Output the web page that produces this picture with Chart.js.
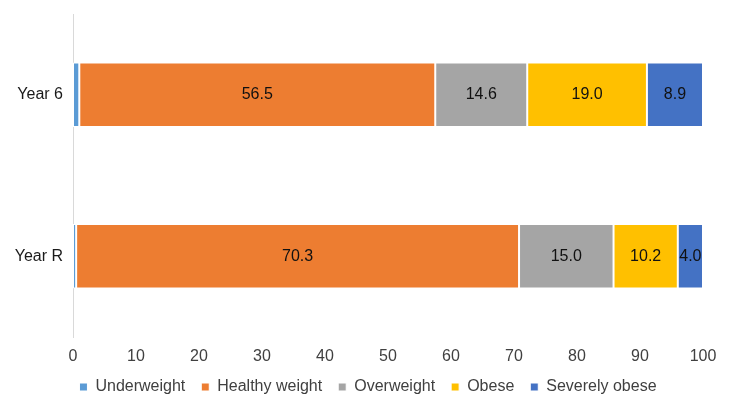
<!DOCTYPE html>
<html>
<head>
<meta charset="utf-8">
<script src="https://cdn.jsdelivr.net/npm/chart.js@4"></script>
<style>
  html, body { margin: 0; padding: 0; background: #fff; }
  #wrap { width: 732px; height: 406px; }
</style>
</head>
<body>
<div id="wrap"><canvas id="weightChart"></canvas></div>
<script>
// Categories and series values (percent)
const categories = ["Year 6", "Year R"];
const underweight = [1.0, 0.5];
const healthyWeight = [56.5, 70.3];
const overweight = [14.6, 15.0];
const obese = [19.0, 10.2];
const severelyObese = [8.9, 4.0];
const xTicks = [0, 10, 20, 30, 40, 50, 60, 70, 80, 90, 100];

const FONT = "'Liberation Sans', Arial, sans-serif";

// Draw value labels in the middle of each segment (not for underweight)
const segmentLabels = {
  id: "segmentLabels",
  afterDatasetsDraw(chart) {
    const ctx = chart.ctx;
    ctx.save();
    ctx.font = "16px " + FONT;
    ctx.fillStyle = "#111111";
    ctx.textAlign = "center";
    ctx.textBaseline = "middle";
    chart.data.datasets.forEach((ds, i) => {
      if (i === 0) return;
      const meta = chart.getDatasetMeta(i);
      meta.data.forEach((bar, j) => {
        const mid = (bar.x + bar.base) / 2;
        ctx.fillText(ds.data[j].toFixed(1), mid, bar.y);
      });
    });
    ctx.restore();
  }
};

// x axis is kept short so the legend sits close; let its labels draw past it.
// Legend is centred on the whole canvas, not on the padded area.
const tickRoom = {
  id: "tickRoom",
  afterLayout(chart) {
    chart.scales.x.bottom += 12;
    chart.legend.left += 10;
    chart.legend.right += 10;
  }
};

document.addEventListener("DOMContentLoaded", () => {
  const ctx = document.getElementById("weightChart").getContext("2d");
  new Chart(ctx, {
    type: "bar",
    data: {
      labels: categories,
      datasets: [
        { label: "Underweight", data: underweight, backgroundColor: "#5B9BD5" },
        { label: "Healthy weight", data: healthyWeight, backgroundColor: "#ED7D31" },
        { label: "Overweight", data: overweight, backgroundColor: "#A5A5A5" },
        { label: "Obese", data: obese, backgroundColor: "#FFC000" },
        { label: "Severely obese", data: severelyObese, backgroundColor: "#4472C4" },
      ].map(d => Object.assign(d, {
        borderColor: "#ffffff",
        borderWidth: 1,
        borderSkipped: false,
        categoryPercentage: 0.4,
        barPercentage: 1.0,
      })),
    },
    options: {
      indexAxis: "y",
      responsive: true,
      maintainAspectRatio: false,
      animation: false,
      layout: { padding: { top: 14, right: 29, left: 13, bottom: 1 } },
      plugins: {
        legend: {
          display: true,
          position: "bottom",
          labels: {
            boxWidth: 8,
            boxHeight: 8,
            padding: 16,
            color: "#404040",
            font: { family: FONT, size: 16 },
          },
        },
        tooltip: { enabled: false },
      },
      scales: {
        x: {
          stacked: true,
          min: 0,
          max: 100,
          afterBuildTicks: axis => { axis.ticks = xTicks.map(v => ({ value: v })); },
          afterFit: axis => { axis.height = 26; },
          grid: { display: false, drawTicks: false },
          border: { display: false },
          ticks: { color: "#404040", padding: 10, font: { family: FONT, size: 16 } },
        },
        y: {
          stacked: true,
          afterFit: axis => {
            axis.width = 60;
            axis.paddingTop = 0;
            axis.paddingBottom = 0;
          },
          grid: { display: false, drawTicks: false },
          border: { display: true, color: "#D9D9D9", width: 1 },
          ticks: { color: "#1a1a1a", padding: 10, font: { family: FONT, size: 16 } },
        },
      },
    },
    plugins: [segmentLabels, tickRoom],
  });
});
</script>
</body>
</html>
